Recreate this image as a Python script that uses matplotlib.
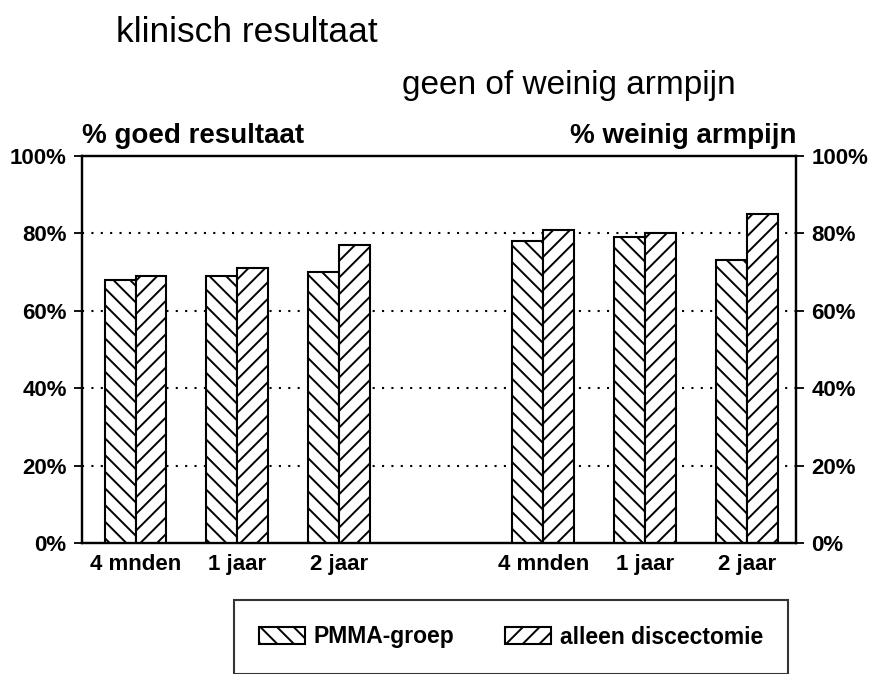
import matplotlib.pyplot as plt
import numpy as np

plt.rcParams['font.family'] = ['Liberation Sans', 'DejaVu Sans']
plt.rcParams['hatch.linewidth'] = 1.4

labels = ['4 mnden', '1 jaar', '2 jaar', '4 mnden', '1 jaar', '2 jaar']
positions = [0, 1, 2, 4, 5, 6]
pmma = [68, 69, 70, 78, 79, 73]
alleen = [69, 71, 77, 81, 80, 85]
yticks = [0, 20, 40, 60, 80, 100]
ytick_labels = ['0%', '20%', '40%', '60%', '80%', '100%']

fig = plt.figure(figsize=(8.81, 6.74), dpi=100)
ax = fig.add_axes([82 / 881, 1 - 543 / 674, 714 / 881, 387 / 674])

x = np.array(positions)
w = 0.304
ax.bar(x - w / 2, pmma, w, color='white', edgecolor='black', hatch='\\\\', linewidth=1.5,
       label='PMMA-groep', zorder=3)
ax.bar(x + w / 2, alleen, w, color='white', edgecolor='black', hatch='//', linewidth=1.5,
       label='alleen discectomie', zorder=3)

ax.set_xlim(-0.525, 6.48)
ax.set_ylim(0, 100)
ax.set_yticks(yticks)
ax.set_yticklabels(ytick_labels, fontsize=16, fontweight='bold')
ax.set_xticks(positions)
ax.set_xticklabels(labels, fontsize=16, fontweight='bold')
ax.tick_params(axis='x', length=0, pad=8)
ax.tick_params(axis='y', direction='out', length=6, width=1.3, pad=5)
for g in [20, 40, 60, 80]:
    ax.axhline(g, color='black', linestyle=(0, (1, 3.5)), linewidth=1.5, zorder=1)
for s in ax.spines.values():
    s.set_linewidth(1.6)

ax2 = ax.twinx()
ax2.set_ylim(0, 100)
ax2.set_yticks(yticks)
ax2.set_yticklabels(ytick_labels, fontsize=16, fontweight='bold')
ax2.tick_params(axis='y', direction='out', length=6, width=1.3, pad=5)
for s in ax2.spines.values():
    s.set_linewidth(1.6)

ylab = (543 - 143) / 387
ax.text(0.0, ylab, '% goed resultaat', transform=ax.transAxes, fontsize=20, fontweight='bold',
        ha='left', va='baseline')
ax.text(1.0, ylab, '% weinig armpijn', transform=ax.transAxes, fontsize=20, fontweight='bold',
        ha='right', va='baseline')

fig.text(116 / 881, 1 - 42 / 674, 'klinisch resultaat', fontsize=25.5, ha='left', va='baseline')
fig.text(736 / 881, 1 - 94 / 674, 'geen of weinig armpijn', fontsize=24, ha='right', va='baseline')

leg = fig.legend(loc='center', bbox_to_anchor=(511 / 881, 1 - 637 / 674), ncol=2,
                 prop={'weight': 'bold', 'size': 16.5}, frameon=True, fancybox=False,
                 edgecolor='black', handlelength=2.0, handleheight=0.8, columnspacing=2.2,
                 borderpad=1.1, handletextpad=0.4, borderaxespad=0)
leg.get_frame().set_linewidth(1.5)

fig.savefig('out.png', dpi=100)
